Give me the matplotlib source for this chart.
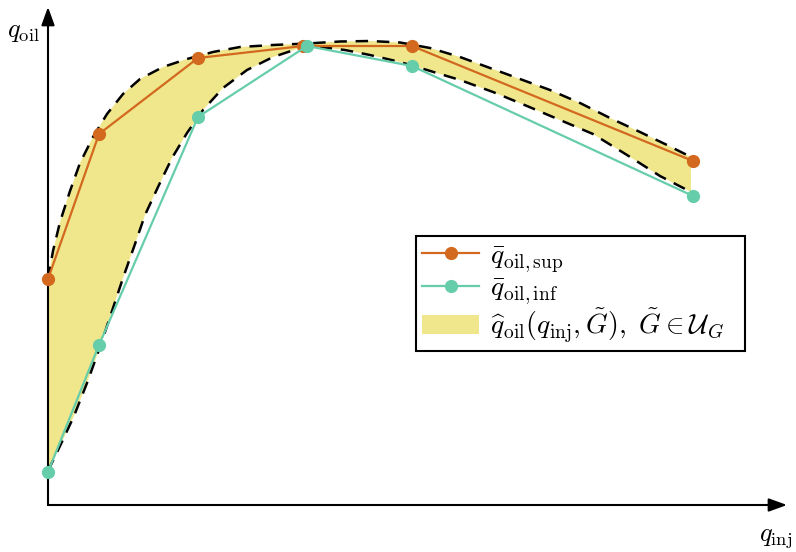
import numpy as np
import matplotlib
matplotlib.use("Agg")
import matplotlib.pyplot as plt
from matplotlib.lines import Line2D
from matplotlib.patches import Patch
from matplotlib.legend_handler import HandlerLine2D

plt.rcParams['mathtext.fontset'] = 'cm'
plt.rcParams['font.family'] = ['DejaVu Serif']

# sampled gas-lift points (upper / lower bound)
q_inj_sup = [0.0, 0.51, 1.50, 2.55, 3.64, 6.45]
q_oil_sup = [2.26, 3.71, 4.47, 4.59, 4.59, 3.44]
q_inj_inf = [0.0, 0.51, 1.50, 2.59, 3.64, 6.45]
q_oil_inf = [0.33, 1.60, 3.88, 4.59, 4.39, 3.09]

# envelope of the uncertain curves (dashed)
env_up_x = [0.0, 0.05, 0.12, 0.22, 0.32, 0.45, 0.59, 0.75, 0.92, 1.15, 1.39, 1.65,
            1.92, 2.25, 2.59, 2.92, 3.22, 3.52, 3.82, 4.12, 4.42, 4.72, 5.02, 5.32,
            5.62, 5.92, 6.19, 6.43]
env_up_y = [2.26, 2.54, 2.83, 3.14, 3.42, 3.68, 3.91, 4.11, 4.26, 4.38, 4.46, 4.53,
            4.58, 4.60, 4.615, 4.635, 4.64, 4.625, 4.57, 4.48, 4.37, 4.26, 4.15, 4.02,
            3.87, 3.73, 3.60, 3.48]
env_lo_x = [0.0, 0.12, 0.26, 0.39, 0.52, 0.65, 0.75, 0.87, 0.97, 1.10, 1.24, 1.39,
            1.55, 1.75, 1.99, 2.25, 2.52, 2.72, 2.97, 3.22, 3.52, 3.79, 4.12, 4.45,
            4.79, 5.12, 5.45, 5.79, 6.12, 6.43]
env_lo_y = [0.34, 0.59, 0.89, 1.22, 1.58, 1.97, 2.27, 2.61, 2.90, 3.18, 3.47, 3.72,
            3.95, 4.17, 4.35, 4.48, 4.57, 4.58, 4.55, 4.50, 4.43, 4.35, 4.25, 4.13,
            3.99, 3.85, 3.71, 3.50, 3.29, 3.13]

c_sup = '#d2691e'
c_inf = '#66cdaa'
c_fill = '#f0e68c'

fig = plt.figure(figsize=(7.96, 5.52), dpi=100)
ax = fig.add_axes([0, 0, 1, 1])
ax.set_xlim(-0.48, 7.48)
ax.set_ylim(-0.47, 5.05)
ax.axis('off')

# uncertainty band
ax.fill(np.r_[env_up_x, env_lo_x[::-1]], np.r_[env_up_y, env_lo_y[::-1]],
        color=c_fill, lw=0, zorder=1)
for ex, ey in [(env_up_x, env_up_y), (env_lo_x, env_lo_y)]:
    ax.plot(ex, ey, color='k', lw=1.8, dashes=(5, 3.5), zorder=2)

# axes arrows
arrow = dict(arrowstyle='-|>,head_length=0.55,head_width=0.2', color='k', lw=1.5,
             mutation_scale=20, shrinkA=0, shrinkB=0)
ax.annotate('', xy=(7.39, 0), xytext=(0, 0), arrowprops=arrow, zorder=2.5)
ax.annotate('', xy=(0, 4.98), xytext=(0, 0), arrowprops=arrow, zorder=2.5)
ax.text(-0.25, 4.73, r'$q_{\mathrm{oil}}$', fontsize=19, ha='center', va='center')
ax.text(7.28, -0.32, r'$q_{\mathrm{inj}}$', fontsize=19, ha='center', va='center')

ax.plot(q_inj_sup, q_oil_sup, color=c_sup, lw=1.6, marker='o', ms=8.5, zorder=3)
ax.plot(q_inj_inf, q_oil_inf, color=c_inf, lw=1.6, marker='o', ms=8.5, zorder=3.1)


class MarkerRight(HandlerLine2D):
    def get_xdata(self, legend, xdescent, ydescent, width, height, fontsize):
        xdata = np.array([-xdescent, -xdescent + width])
        return xdata, np.array([-xdescent + 0.74 * width])


handles = [Line2D([], [], color=c_sup, lw=1.6, marker='o', ms=8.5),
           Line2D([], [], color=c_inf, lw=1.6, marker='o', ms=8.5),
           Patch(facecolor=c_fill, edgecolor='none')]
labels = [r'$\bar{q}_{\mathrm{oil,sup}}$', r'$\bar{q}_{\mathrm{oil,inf}}$',
          r'$\widehat{q}_{\mathrm{oil}}(q_{\mathrm{inj}},\tilde{G}),\ \tilde{G}\in\mathcal{U}_G$']
leg = fig.legend(handles, labels, loc='upper left', mode='expand',
                 bbox_to_anchor=(416 / 796, 1 - 349 / 552, 329 / 796, 113 / 552),
                 fontsize=20, frameon=True, fancybox=False, edgecolor='k', framealpha=1,
                 borderpad=0.22, handlelength=2.05, handletextpad=0.4, labelspacing=0.02,
                 borderaxespad=0, handler_map={Line2D: MarkerRight(numpoints=1)})
leg.get_frame().set_linewidth(1.5)

fig.savefig('out.png', dpi=100)
